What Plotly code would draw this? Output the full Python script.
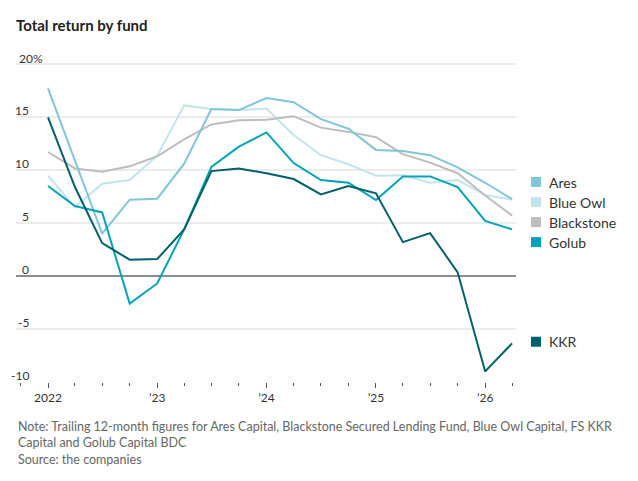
import plotly.graph_objects as go

# quarterly points, Jan 2022 .. Apr 2026
dates = ["2022-01-01", "2022-04-01", "2022-07-01", "2022-10-01",
         "2023-01-01", "2023-04-01", "2023-07-01", "2023-10-01",
         "2024-01-01", "2024-04-01", "2024-07-01", "2024-10-01",
         "2025-01-01", "2025-04-01", "2025-07-01", "2025-10-01",
         "2026-01-01", "2026-04-01"]

ares = [17.7, 10.9, 4.0, 7.2, 7.3, 10.6, 15.75, 15.66, 16.8, 16.4,
        14.8, 13.9, 11.9, 11.8, 11.4, 10.25, 8.8, 7.26]
blue_owl = [9.46, 6.5, 8.7, 9.05, 11.35, 16.1, 15.75, 15.66, 15.8, 13.3,
            11.4, 10.55, 9.46, 9.5, 8.8, 9.05, 7.64, 7.2]
blackstone = [11.7, 10.15, 9.85, 10.35, 11.3, 12.9, 14.3, 14.7, 14.75, 15.08,
              14.0, 13.6, 13.1, 11.5, 10.7, 9.7, 7.6, 5.7]
golub = [8.5, 6.6, 6.0, -2.6, -0.7, 4.4, 10.3, 12.2, 13.55, 10.66,
         9.05, 8.8, 7.17, 9.4, 9.4, 8.4, 5.2, 4.4]
kkr = [14.97, 8.4, 3.1, 1.54, 1.6, 4.4, 9.9, 10.15, 9.7, 9.15,
       7.7, 8.5, 7.8, 3.2, 4.05, 0.35, -9.0, -6.35]

series_names = ["Ares", "Blue Owl", "Blackstone", "Golub", "KKR"]
series_values = [ares, blue_owl, blackstone, golub, kkr]
colors = ["#80c6d6", "#c1e4ed", "#bdbdbd", "#00a3b9", "#00606a"]
label_y = [8.87, 6.98, 5.09, 3.2, -6.2]

year_ticks = ["2022-01-01", "2023-01-01", "2024-01-01", "2025-01-01", "2026-01-01"]
year_text = ["2022", "\u201923", "\u201924", "\u201925", "\u201926"]
y_ticks = [-10, -5, 0, 5, 10, 15, 20]
y_text = ["-10", "-5", "0", "5", "10", "15", "20%"]

font = "Lato, Roboto, sans-serif"

fig = go.Figure()
# draw order: light ones first, dark on top
for i in [1, 2, 0, 3, 4]:
    fig.add_trace(go.Scatter(
        x=dates, y=series_values[i],
        mode="lines",
        name=series_names[i],
        line=dict(color=colors[i], width=2),
        hoverinfo="skip",
    ))

shapes = []
annotations = []
for i, name in enumerate(series_names):
    shapes.append(dict(
        type="rect", xref="paper", yref="y",
        xsizemode="pixel", ysizemode="pixel",
        xanchor=1, yanchor=label_y[i],
        x0=15, x1=25, y0=-5, y1=5,
        fillcolor=colors[i], line=dict(width=0),
    ))
    annotations.append(dict(
        xref="paper", yref="y", x=1, y=label_y[i],
        xshift=31, xanchor="left", yanchor="middle",
        text=name, showarrow=False,
        font=dict(family=font, size=14, color="#333333"),
    ))

for v, t in zip(y_ticks, y_text):
    if t.endswith("%"):
        annotations.append(dict(
            xref="paper", yref="y", x=0, y=v, xshift=1, yshift=6,
            xanchor="left", yanchor="middle", text=t, showarrow=False,
            font=dict(family=font, size=12, color="#333333"),
        ))
    else:
        annotations.append(dict(
            xref="paper", yref="y", x=0, y=v, xshift=15, yshift=7,
            xanchor="right", yanchor="middle", text=t, showarrow=False,
            font=dict(family=font, size=12, color="#333333"),
        ))

annotations.append(dict(
    xref="paper", yref="paper", x=0, y=0, yshift=-35,
    xanchor="left", yanchor="top", align="left", showarrow=False,
    text="Note: Trailing 12-month figures for Ares Capital, Blackstone Secured Lending Fund, Blue Owl Capital, FS KKR<br>"
         "Capital and Golub Capital BDC<br>Source: the companies",
    font=dict(family=font, size=12.5, color="#666666"),
))

fig.update_layout(
    width=638, height=481,
    margin=dict(l=16, r=122, t=63, b=99),
    paper_bgcolor="white", plot_bgcolor="white",
    showlegend=False,
    title=dict(text="<b>Total return by fund</b>", x=16 / 638, xref="container",
               xanchor="left", y=1 - 26 / 481, yanchor="middle",
               font=dict(family=font, size=15, color="#222222")),
    shapes=shapes,
    annotations=annotations,
    xaxis=dict(
        type="date",
        range=["2021-09-16", "2026-04-14"],
        tickvals=year_ticks, ticktext=year_text,
        ticks="outside", ticklen=5, tickwidth=1, tickcolor="#555555",
        showgrid=False, zeroline=False, showline=False,
        tickfont=dict(family=font, size=12, color="#333333"),
        minor=dict(dtick="M3", tick0="2022-01-01", ticks="outside",
                   ticklen=3, tickwidth=1, tickcolor="#555555", showgrid=False),
    ),
    yaxis=dict(
        range=[-10, 20.1],
        tickvals=y_ticks, showticklabels=False,
        showgrid=True, gridcolor="#ececec", gridwidth=2,
        zeroline=True, zerolinecolor="#8c8c8c", zerolinewidth=2,
        showline=False,
    ),
)

# page body has a default 8px margin; drop it so the figure sits at the window corner
fig.write_html("out.html", config={"displayModeBar": False},
               post_script="document.body.style.margin='0px';")
